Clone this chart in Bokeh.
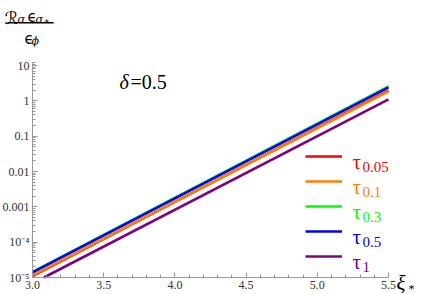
from bokeh.plotting import figure
from bokeh.models import (Range1d, FixedTicker, CustomJSTickFormatter, Label,
                          BoxAnnotation, Legend, LegendItem)
from bokeh.embed import file_html
from bokeh.resources import INLINE
import math

# ---------------- data ----------------
xi = [3.0, 5.5]
tau_005 = [1.10e-5, 1.95]
tau_01 = [1.15e-5, 1.85]
tau_03 = [1.45e-5, 2.55]
tau_05 = [1.40e-5, 2.40]
xi_tau1 = [3.08, 5.5]          # purple curve enters the plot at the x axis
tau_1 = [1.0e-5, 1.10]

series_names = ["0.05", "0.1", "0.3", "0.5", "1"]
series_x = [xi, xi, xi, xi, xi_tau1]
series_vals = [tau_005, tau_01, tau_03, tau_05, tau_1]
series_colors = ["#ff0000", "#ff8000", "#00ff00", "#0000ff", "#800080"]

y_tick_vals = [1e-5, 1e-4, 1e-3, 1e-2, 1e-1, 1, 10]
y_tick_labels = ["10\u207b\u2075", "10\u207b\u2074", "0.001", "0.01", "0.1", "1", "10"]
x_tick_vals = [3.0, 3.5, 4.0, 4.5, 5.0, 5.5]
x_tick_labels = ["3.0", "3.5", "4.0", "4.5", "5.0", "5.5"]

# ---------------- layout ----------------
W, H = 421, 294
FL, FR, FT, FB = 32, 388, 62, 277      # pixel box of the data region
X0, X1 = 3.0, 5.5
YB, YT = 1e-5, 12.2

kx = (X1 - X0) / (FR - FL)
ky = (math.log10(YT) - math.log10(YB)) / (FB - FT)
xr = Range1d(X0 - FL * kx, X1 + (W - FR) * kx)
yr = Range1d(10 ** (math.log10(YB) - (H - FB) * ky), 10 ** (math.log10(YT) + FT * ky))

p = figure(width=W, height=H, output_backend="svg", toolbar_location=None,
           x_range=xr, y_range=yr, y_axis_type="log",
           min_border_left=0, min_border_right=0, min_border_top=0, min_border_bottom=0)
p.outline_line_color = None
p.grid.visible = False
p.background_fill_color = "white"
p.border_fill_color = "white"

AX = "#999999"
LAB = "#333333"
serif = "Liberation Serif"

y_minor = [k * 10 ** e for e in range(-5, 1) for k in range(2, 10)] + [11, 12]
x_minor = [round(3.0 + 0.1 * i, 2) for i in range(26) if i % 5 != 0]

yax = p.yaxis[0]
yax.ticker = FixedTicker(ticks=y_tick_vals, minor_ticks=y_minor)
yax.formatter = CustomJSTickFormatter(args=dict(vals=y_tick_vals, labs=y_tick_labels), code="""
  for (let i = 0; i < vals.length; i++) {
    if (Math.abs(Math.log10(tick) - Math.log10(vals[i])) < 1e-6) return labs[i];
  }
  return "";
""")
yax.fixed_location = X0
yax.bounds = (YB, YT)
xax = p.xaxis[0]
xax.ticker = FixedTicker(ticks=x_tick_vals, minor_ticks=x_minor)
xax.formatter = CustomJSTickFormatter(args=dict(vals=x_tick_vals, labs=x_tick_labels), code="""
  for (let i = 0; i < vals.length; i++) {
    if (Math.abs(tick - vals[i]) < 1e-6) return labs[i];
  }
  return "";
""")
xax.fixed_location = YB
xax.bounds = (X0, X1)
for ax in (xax, yax):
    ax.axis_line_color = AX
    ax.major_tick_line_color = AX
    ax.minor_tick_line_color = AX
    ax.major_tick_in = 5
    ax.major_tick_out = 0
    ax.minor_tick_in = 3
    ax.minor_tick_out = 0
    ax.major_label_text_font = serif
    ax.major_label_text_font_size = "12px"
    ax.major_label_text_color = LAB
    ax.major_label_standoff = 3

renderers = []
for name, xs, vals, col in zip(series_names, series_x, series_vals, series_colors):
    r = p.line(xs, vals, line_color=col, line_width=2.6)
    renderers.append((name, r, col))

# legend (glyphs only; texts drawn as labels)
items = [LegendItem(label=" ", renderers=[r]) for _, r, _ in renderers]
leg = Legend(items=items, location=(305, H - 266), glyph_width=37, glyph_height=20,
             label_width=0, label_standoff=0, label_text_font_size="1px", spacing=5,
             padding=0, margin=0, border_line_alpha=0, background_fill_alpha=0)
p.add_layout(leg, "center")


def txt(px, py, s, size, color="black", font=serif, style="normal"):
    p.add_layout(Label(x=px, y=py, x_units="canvas", y_units="canvas", text=s, text_font=font,
                       text_font_size=f"{size}px", text_color=color, text_font_style=style,
                       text_baseline="alphabetic", text_align="left"))


# legend texts
for i, (name, r, col) in enumerate(renderers):
    yc = 156 + 25 * i
    txt(352, yc + 5, "\u03c4", 21, col)
    txt(362, yc + 10, name, 15, col)

# delta label
txt(119, 81, "\u03b4", 20, "black", style="italic")
txt(130, 81, "=0.5", 20, "black")

# x axis label
txt(396, 282, "\u03be", 21, "black", style="italic")
txt(408, 288, "*", 12, "black")

# y axis label (fraction)
txt(4, 17, "\u211b", 17, "black", font="DejaVu Sans")
txt(17, 19, "\u03c3", 11, "black", font="DejaVu Serif", style="italic")
txt(27, 16, "\u03f5", 15, "black", font="DejaVu Sans")
txt(35, 19, "\u03c3", 11, "black", font="DejaVu Serif", style="italic")
txt(44, 22, "*", 9, "black", font="DejaVu Sans")
txt(24, 38, "\u03f5", 15, "black", font="DejaVu Sans")
txt(31, 41, "\u03d5", 11, "black", font="DejaVu Serif", style="italic")
p.add_layout(BoxAnnotation(left=7, right=53, top=21.5, bottom=23, left_units="canvas",
                           right_units="canvas", top_units="canvas", bottom_units="canvas",
                           fill_color="black", fill_alpha=1, line_alpha=0, level="annotation"))

template = """{% block preamble %}<style>html, body { margin: 0 !important; padding: 0 !important; }</style>{% endblock %}"""
open("out.html", "w").write(file_html(p, INLINE, title="plot", template=template))
